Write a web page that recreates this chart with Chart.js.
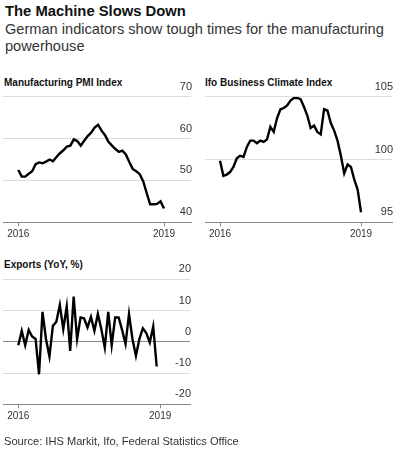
<!DOCTYPE html>
<html lang="en">
<head>
<meta charset="utf-8">
<title>The Machine Slows Down</title>
<script src="https://cdn.jsdelivr.net/npm/chart.js"></script>
<style>
  body { margin: 0; background: #fff; font-family: "Liberation Sans", Arial, sans-serif; color: #111; }
  #wrap { position: relative; width: 399px; height: 457px; overflow: hidden; }
  .txt { position: absolute; left: 5px; white-space: nowrap; }
  .head { top: 3px; font-size: 14.8px; font-weight: bold; line-height: 17px; }
  .sub { top: 21px; font-size: 14.6px; line-height: 17px; color: #333; }
  .ptitle { font-size: 10px; font-weight: bold; line-height: 12px; }
  .src { top: 434px; font-size: 11.1px; line-height: 14px; color: #333; left: 4px; }
  canvas { position: absolute; }
</style>
</head>
<body>
<div id="wrap">
  <div class="txt head">The Machine Slows Down</div>
  <div class="txt sub">German indicators show tough times for the manufacturing<br>powerhouse</div>

  <div class="txt ptitle" style="left:4px; top:77px">Manufacturing PMI Index</div>
  <div class="txt ptitle" style="left:205px; top:77px">Ifo Business Climate Index</div>
  <div class="txt ptitle" style="left:4px; top:259px">Exports (YoY, %)</div>

  <canvas id="pmiChart" width="200" height="190" style="left:0; top:60px"></canvas>
  <canvas id="ifoChart" width="199" height="190" style="left:200px; top:60px"></canvas>
  <canvas id="expChart" width="200" height="190" style="left:0; top:250px"></canvas>

  <div class="txt src">Source: IHS Markit, Ifo, Federal Statistics Office</div>
</div>

<script>
  // monthly, Jan 2016 onwards
  var pmiValues = [52.5, 50.9, 50.9, 51.6, 52.2, 53.9, 54.3, 54.1, 54.5, 55.0,
    54.6, 55.6, 56.5, 57.2, 58.1, 58.3, 59.8, 59.4, 58.3, 59.5,
    60.6, 61.4, 62.6, 63.3, 61.9, 60.8, 59.2, 58.3, 57.5, 56.8,
    57.1, 56.2, 54.4, 52.7, 52.2, 51.5, 49.8, 47.0, 44.3, 44.3,
    44.4, 45.0, 43.3];
  var ifoValues = [99.9, 98.7, 98.8, 99.0, 99.4, 100.1, 100.3, 100.2, 101.0, 101.5,
    101.5, 101.3, 101.5, 101.4, 101.6, 102.6, 102.2, 103.3, 104.0, 104.1,
    104.3, 104.7, 104.9, 104.9, 104.8, 104.2, 103.5, 102.5, 102.7, 102.2,
    102.0, 104.0, 103.9, 102.9, 102.3, 101.5, 100.3, 98.9, 99.6, 99.4,
    98.4, 97.6, 95.8];
  var exportValues = [-1.1, 3.5, -1.1, 3.8, 1.7, 0.9, -10.4, 9.6, 0.9, -4.7,
    5.1, 6.4, 11.8, 4.1, 11.3, -2.9, 14.5, 0.9, 7.8, 7.5,
    4.6, 8.0, 3.5, 8.9, 4.1, -1.8, 9.6, -1.1, 7.8, 7.8,
    3.8, -0.7, 8.9, 0.9, -4.5, 0.9, 4.3, 2.8, -0.2, 4.9,
    -7.9];
  var tickYears = ['2016', '2019'];

  function toPoints(values) {
    return values.map(function (v, i) { return { x: i, y: v }; });
  }

  function makeChart(id, values, cfg) {
    var ctx = document.getElementById(id).getContext('2d');
    return new Chart(ctx, {
      type: 'line',
      data: {
        datasets: [{
          data: toPoints(values),
          borderColor: '#000',
          borderWidth: 2.4,
          pointRadius: 0,
          tension: 0,
          fill: false
        }]
      },
      options: {
        responsive: false,
        animation: false,
        events: [],
        layout: { padding: cfg.padding },
        plugins: { legend: { display: false }, tooltip: { enabled: false } },
        scales: {
          x: {
            type: 'linear',
            min: cfg.xMin,
            max: cfg.xMax,
            afterBuildTicks: function (scale) {
              scale.ticks = [{ value: 0 }, { value: cfg.lastTick }];
            },
            afterFit: function (scale) { scale.height = 20; },
            ticks: {
              autoSkip: false,
              maxRotation: 0,
              padding: 2,
              color: '#333',
              font: { family: 'Liberation Sans', size: 10 },
              callback: function (v) { return v === 0 ? tickYears[0] : tickYears[1]; }
            },
            grid: { drawOnChartArea: false, tickLength: 4, color: '#888' },
            border: { display: true, color: '#888', width: 1 }
          },
          y: {
            position: 'right',
            min: cfg.yMin,
            max: cfg.yMax,
            afterFit: function (scale) { scale.width = 0; },
            ticks: {
              stepSize: cfg.step,
              mirror: true,
              padding: 1,
              labelOffset: -10,
              color: '#333',
              font: { family: 'Liberation Sans', size: 11 }
            },
            grid: {
              drawTicks: false,
              color: function (c) {
                if (c.tick.value === cfg.yMin) return 'rgba(0,0,0,0)';
                if (c.tick.value === 0) return '#8a8a8a';
                return '#dcdcdc';
              }
            },
            border: { display: false }
          }
        }
      }
    });
  }

  makeChart('pmiChart', pmiValues, {
    padding: { left: 3, right: 9, top: 36.7, bottom: 7.7 },
    xMin: -4.41, xMax: 49.78, lastTick: 42,
    yMin: 40, yMax: 70, step: 10
  });
  makeChart('ifoChart', ifoValues, {
    padding: { left: 5, right: 7, top: 36.7, bottom: 7.7 },
    xMin: -4.47, xMax: 51.23, lastTick: 42,
    yMin: 95, yMax: 105, step: 5
  });
  makeChart('expChart', exportValues, {
    padding: { left: 3, right: 10, top: 29.3, bottom: 15.7 },
    xMin: -4.42, xMax: 49.63, lastTick: 41,
    yMin: -20, yMax: 20, step: 10
  });
</script>
</body>
</html>
